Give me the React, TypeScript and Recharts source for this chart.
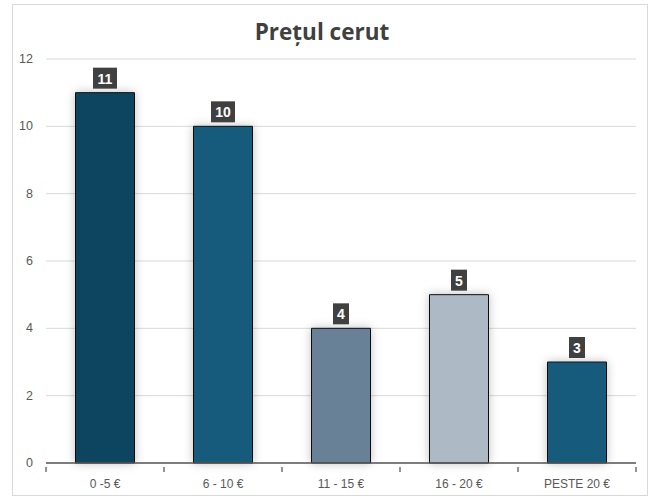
import React from 'react';
import { BarChart, Bar, XAxis, YAxis, CartesianGrid, Cell, LabelList } from 'recharts';

const categories = ['0 -5 €', '6 - 10 €', '11 - 15 €', '16 - 20 €', 'PESTE 20 €'];
const counts = [11, 10, 4, 5, 3];
const barColors = ['#0f4560', '#145a7b', '#688196', '#adb9c5', '#145a7c'];
const yTicks = [0, 2, 4, 6, 8, 10, 12];
const title = 'Prețul cerut';

const data = categories.map((c, i) => ({ name: c, value: counts[i] }));

const XTick = (props: any) => {
  const { x, y, payload, index, visibleTicksCount } = props;
  const half = payload && payload.offset ? payload.offset : 59;
  const isLast = index === (visibleTicksCount ? visibleTicksCount - 1 : categories.length - 1);
  return (
    <g>
      <line x1={x - half} y1={y - 4} x2={x - half} y2={y + 1} stroke="#595959" strokeWidth={1.3} />
      {isLast && <line x1={x + half} y1={y - 4} x2={x + half} y2={y + 1} stroke="#595959" strokeWidth={1.3} />}
      <text x={x} y={y + 17} textAnchor="middle" fontSize={12} fill="#595959" fontFamily="'Liberation Sans Narrow', 'Liberation Sans', Arial, sans-serif">
        {payload.value}
      </text>
    </g>
  );
};

const YTick = (props: any) => {
  const { x, y, payload } = props;
  return (
    <text x={x - 5} y={y + 4} textAnchor="end" fontSize={12.5} fill="#595959" fontFamily="'Liberation Sans', Arial, sans-serif">
      {payload.value}
    </text>
  );
};

const BoxLabel = (props: any) => {
  const { x, y, width, value } = props;
  const cx = x + width / 2;
  const w = String(value).length > 1 ? 24 : 16;
  const h = 21;
  return (
    <g>
      <rect x={cx - w / 2} y={y - 4 - h} width={w} height={h} fill="#404040" />
      <text x={cx} y={y - 9} textAnchor="middle" fontSize={14} fontWeight="bold" fill="#ffffff" fontFamily="'Liberation Sans', Arial, sans-serif">
        {value}
      </text>
    </g>
  );
};

export default function App() {
  return (
    <div style={{ position: 'absolute', left: 0, top: 0, width: 656, height: 500, background: '#ffffff' }}>
      <div style={{ position: 'absolute', left: 12, top: 4, width: 636, height: 492, border: '1px solid #d9d9d9', boxSizing: 'border-box' }} />
      <div style={{ position: 'absolute', left: 0, top: 17, width: 644, textAlign: 'center', fontFamily: "'Open Sans', 'Noto Sans', sans-serif", fontWeight: 700, fontSize: 22.5, color: '#404040', lineHeight: '30px' }}>
        {title}
      </div>
      <div style={{ position: 'absolute', left: 0, top: 0 }}>
        <BarChart width={656} height={500} data={data} margin={{ top: 59, right: 20, bottom: 0, left: 0 }} barCategoryGap="25%">
          <defs>
            <filter id="barShadow" x="-50%" y="-20%" width="200%" height="140%">
              <feDropShadow dx="0" dy="0" stdDeviation="5" floodColor="#000000" floodOpacity="0.25" />
            </filter>
          </defs>
          <CartesianGrid vertical={false} stroke="#d9d9d9" strokeWidth={1} />
          <XAxis dataKey="name" axisLine={{ stroke: '#595959', strokeWidth: 1.3 }} tickLine={false} tick={<XTick />} interval={0} height={37} />
          <YAxis domain={[0, 12]} ticks={yTicks} axisLine={false} tickLine={false} width={46} tick={<YTick />} />
          <Bar dataKey="value" isAnimationActive={false} stroke="#111111" strokeWidth={1} style={{ filter: 'url(#barShadow)' }}>
            {data.map((d, i) => (
              <Cell key={d.name} fill={barColors[i]} />
            ))}
            <LabelList dataKey="value" content={<BoxLabel />} />
          </Bar>
        </BarChart>
      </div>
    </div>
  );
}
